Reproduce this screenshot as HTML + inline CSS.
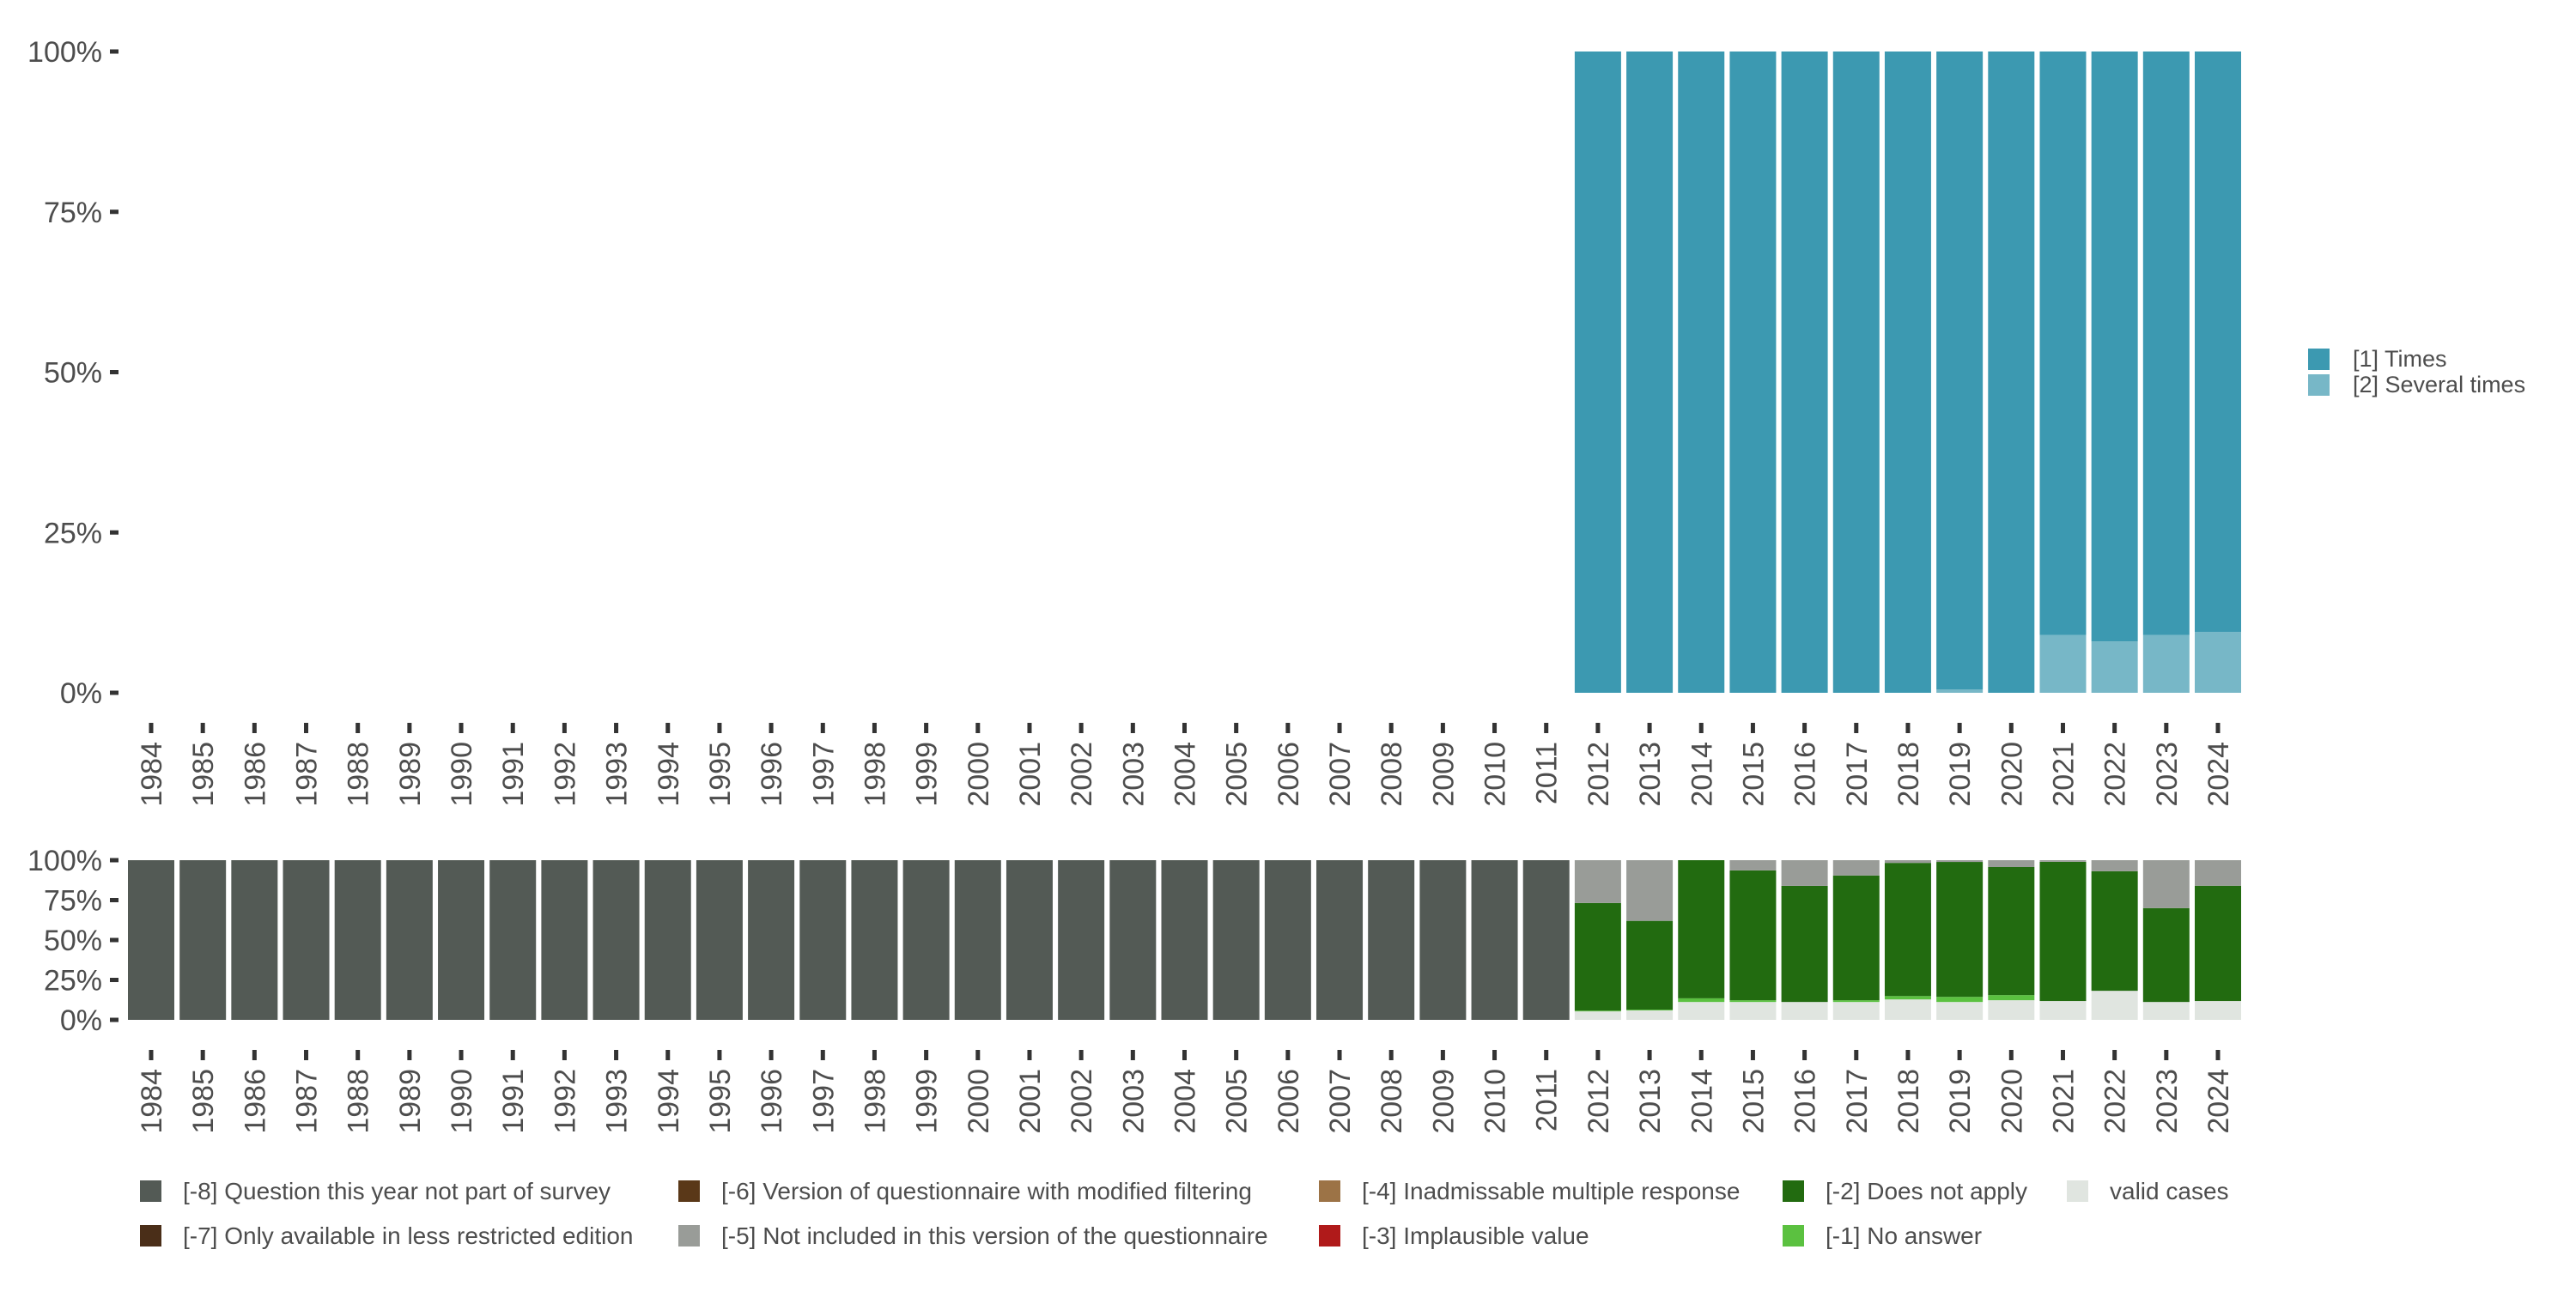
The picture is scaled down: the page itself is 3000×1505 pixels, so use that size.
<!DOCTYPE html>
<html><head><meta charset="utf-8"><style>
html,body{margin:0;padding:0;background:#fff;}
svg text{font-family:"Liberation Sans",sans-serif;fill:#4D4D4D;}
</style></head><body>
<svg id="chart" width="3000" height="1500" viewBox="0 0 3000 1500" xmlns="http://www.w3.org/2000/svg"></svg>
<script>
const years = [];
for (let y = 1984; y <= 2024; y++) years.push(y);
// top panel (share of valid answers), 1984-2011 absent
const topTimes   = {2012:100,2013:100,2014:100,2015:100,2016:100,2017:100,2018:100,2019:99.5,2020:100,2021:91,2022:92,2023:91,2024:90.5};
const topSeveral = {2012:0,2013:0,2014:0,2015:0,2016:0,2017:0,2018:0,2019:0.5,2020:0,2021:9,2022:8,2023:9,2024:9.5};
// bottom panel: missing categories (%)
const botValid = {2012:5.3,2013:5.9,2014:11.2,2015:11.2,2016:11.2,2017:11.2,2018:12.8,2019:11.2,2020:12.3,2021:11.8,2022:18.2,2023:11.2,2024:11.8};
const botNoAns = {2012:0.5,2013:0.5,2014:2.3,2015:1.1,2016:0,2017:1.1,2018:2.1,2019:3.2,2020:3.2,2021:0,2022:0,2023:0,2024:0};
const botNotApply = {2012:67.4,2013:55.6,2014:86.5,2015:81.3,2016:72.7,2017:78.1,2018:83.4,2019:84.5,2020:80.2,2021:87.2,2022:74.9,2023:58.8,2024:72.2};
const botNotIncl = {2012:26.8,2013:38,2014:0,2015:6.4,2016:16.1,2017:9.6,2018:1.7,2019:1.1,2020:4.3,2021:1,2022:6.9,2023:30,2024:16.2};
const yTicks = [0,25,50,75,100];
const yTickLabels = ["0%","25%","50%","75%","100%"];

const svg = document.getElementById('chart');
const NS = 'http://www.w3.org/2000/svg';
function mk(tag, attrs, parent){const e=document.createElementNS(NS,tag);for(const k in attrs)e.setAttribute(k,attrs[k]);(parent||svg).appendChild(e);return e;}
const x0 = 176, step = (2583-176)/40, bw = 54;
function xc(yr){return x0 + (yr-1984)*step;}

function panel(top, bottom, name, fs){
  const ys = v => bottom - (bottom-top)*v/100;
  const g = mk('g',{});
  
  
  yTicks.forEach((t,i)=>{
    const lab = mk('text',{x:119,y:ys(t)+fs*0.36,'text-anchor':'end','font-size':fs},g);
    lab.textContent = yTickLabels[i];
    
    
    mk('rect',{x:128,y:ys(t)-2.5,width:10,height:5,fill:'#333'},g);
  });
  years.forEach(yr=>{
    const tk = mk('rect',{x:xc(yr)-2.5,y:bottom+35,width:5,height:12,fill:'#333'},g);
    const lab = mk('text',{transform:`translate(${xc(yr)+12},${bottom+57}) rotate(-90)`,'text-anchor':'end','font-size':34},g);
    lab.textContent = yr;
    
    
  });
  return {g, ys};
}

// top panel
const T = panel(60, 807, 'top-panel', 34);
years.forEach(yr=>{
  if (topTimes[yr]===undefined) return;
  let base = 0;
  [[topSeveral[yr],'#77B7C7'],[topTimes[yr],'#3C99B1']].forEach(([v,c])=>{
    if (v<=0) return;
    const r = mk('rect',{x:xc(yr)-bw/2,y:T.ys(base+v),width:bw,height:T.ys(base)-T.ys(base+v),fill:c},T.g);
    
    
    base += v;
  });
});

// bottom panel
const B = panel(1002, 1188, 'bottom-panel', 34);
years.forEach(yr=>{
  let segs;
  if (botValid[yr]===undefined) segs = [[100,'#535A55']];
  else segs = [[botValid[yr],'#E0E5E0'],[botNoAns[yr],'#5BC140'],[botNotApply[yr],'#226B10'],[botNotIncl[yr],'#999C98']];
  let base = 0;
  segs.forEach(([v,c])=>{
    if (v<=0) return;
    const top = Math.min(100, base+v);
    const r = mk('rect',{x:xc(yr)-bw/2,y:B.ys(top),width:bw,height:B.ys(base)-B.ys(top),fill:c},B.g);
    
    
    base = top;
  });
});

// top legend
const tl = [['[1] Times','#3C99B1',406],['[2] Several times','#77B7C7',436]];
tl.forEach(([t,c,y])=>{
  const s = mk('rect',{x:2688,y:y,width:25,height:25,fill:c});
  
  
  const tx = mk('text',{x:2740,y:y+21,'font-size':27});
  tx.textContent = t;
  
  
});

// bottom legend
const bl = [
 ['[-8] Question this year not part of survey','#535A55',163,1375],
 ['[-7] Only available in less restricted edition','#4A2E18',163,1427],
 ['[-6] Version of questionnaire with modified filtering','#5A3818',790,1375],
 ['[-5] Not included in this version of the questionnaire','#999C98',790,1427],
 ['[-4] Inadmissable multiple response','#9C7346',1536,1375],
 ['[-3] Implausible value','#B01A1A',1536,1427],
 ['[-2] Does not apply','#226B10',2076,1375],
 ['[-1] No answer','#5BC140',2076,1427],
 ['valid cases','#E0E5E0',2407,1375]
];
bl.forEach(([t,c,x,y])=>{
  const s = mk('rect',{x:x,y:y,width:25,height:25,fill:c});
  
  
  const tx = mk('text',{x:x+50,y:y+22,'font-size':28});
  tx.textContent = t;
  
  
});
</script>
</body></html>
